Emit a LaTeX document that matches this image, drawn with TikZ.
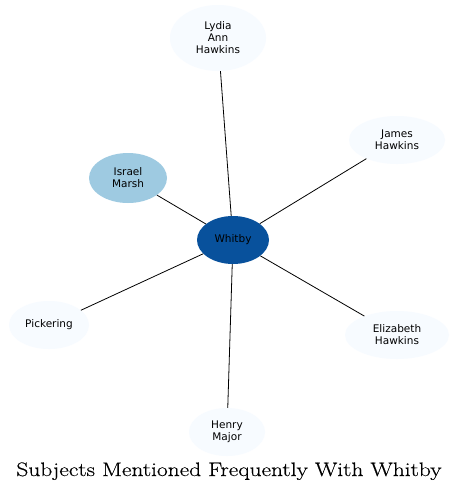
\documentclass[tikz,border=0pt]{standalone}
\usepackage{fontspec}
\newfontfamily\dejavu{DejaVu Sans}
\newfontfamily\titlefont[FakeStretch=1.2,FakeBold=0.4]{Latin Modern Roman}
\usetikzlibrary{shapes.geometric}
\definecolor{cLight}{HTML}{F7FBFF}
\definecolor{cMid}{HTML}{9ECAE1}
\definecolor{cDark}{HTML}{08519C}
\begin{document}
\begin{tikzpicture}[x=1pt,y=-1pt,
  person/.style={ellipse,draw=none,fill=cLight,inner sep=0pt,align=center,
    font=\dejavu\fontsize{10.5}{12}\selectfont,text=black,minimum height=48pt},
  link/.style={draw=black,line width=0.8pt}]
\useasboundingbox (0,0) rectangle (459,493);
\fill[white] (0,0) rectangle (459,493);
\node[person,fill=cDark,minimum width=72pt] (whitby) at (233,240) {Whitby};
\node[person,minimum width=96pt,minimum height=66pt] (lydia) at (218,38) {Lydia\\Ann\\Hawkins};
\node[person,minimum width=96pt] (james) at (397,140) {James\\Hawkins};
\node[person,fill=cMid,minimum width=78pt,minimum height=50pt] (israel) at (128,178) {Israel\\Marsh};
\node[person,minimum width=80pt] (pickering) at (49,325) {Pickering};
\node[person,minimum width=104pt] (elizabeth) at (397,335) {Elizabeth\\Hawkins};
\node[person,minimum width=76pt] (henry) at (227,432) {Henry\\Major};
\draw[link] (whitby) -- (lydia);
\draw[link] (whitby) -- (james);
\draw[link] (whitby) -- (israel);
\draw[link] (whitby) -- (pickering);
\draw[link] (whitby) -- (elizabeth);
\draw[link] (whitby) -- (henry);
\node[font=\titlefont\fontsize{19.5}{23}\selectfont,anchor=base,inner sep=0pt] (title) at (229,476) {Subjects Mentioned Frequently With Whitby};
\end{tikzpicture}
\end{document}
